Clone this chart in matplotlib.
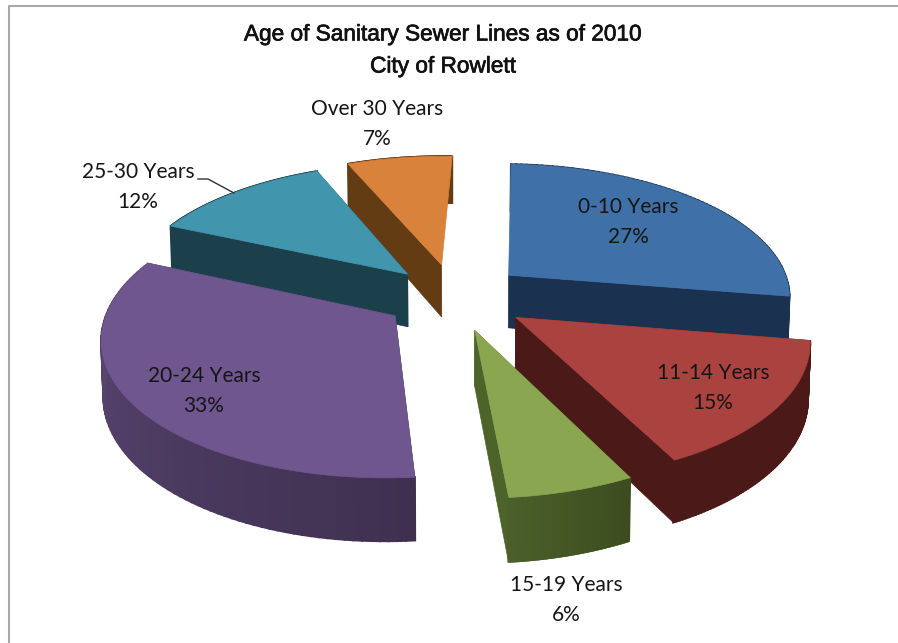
import numpy as np
import matplotlib
matplotlib.use("Agg")
import matplotlib.pyplot as plt
import matplotlib.patheffects as pe
from matplotlib.colors import to_rgb
from matplotlib.patches import Polygon

labels = ["0-10 Years", "11-14 Years", "15-19 Years", "20-24 Years", "25-30 Years", "Over 30 Years"]
values = [27, 15, 6, 33, 12, 7]
top_colors = ["#4070a8", "#aa4340", "#8aa650", "#70568e", "#4195ad", "#d8823b"]
side_colors = ["#1b3150", "#4b1a18", "#4c6329", "#1c3f4c", "#1c3f4c", "#633c14"]
rim_start = ["#1b3150", "#4b1a18", "#3c4c1f", "#3f3050", "#1c3f4c", "#633c14"]
rim_end = ["#1b3150", "#4b1a18", "#4a5f2a", "#5f4a78", "#1c3f4c", "#633c14"]
explode = [0.2554, 0.2646, 0.2605, 0.25, 0.238, 0.2475]
label_pos = [(628, 222), (713, 388), (566, 600), (204, 391), (138, 187), (377, 124)]

# perspective of the tilted pie, in pixels
cx, cy = 453.9, 296.1
sx, sy = 283.2, 132.5
persp = 0.144
rot = 0.0376
depth = 54.1
shrink = 0.0063


def project(x, y, bottom=False):
    w = 1 + persp * y
    if bottom:
        w = w * (1 + shrink)
        return cx + sx * x / w, cy + (depth - sy * y) / w
    return cx + sx * x / w, cy - sy * y / w


fig = plt.figure(figsize=(8.98, 6.43), dpi=100)
ax = fig.add_axes([0, 0, 1, 1])
ax.set_xlim(0, 898)
ax.set_ylim(643, 0)
ax.axis("off")

# chart frame runs off the right and bottom edges
ax.plot([9, 9, 898], [643, 6, 6], color="#a8a8a8", lw=1.5)

edges = np.concatenate([[0], np.cumsum(values)]) / sum(values) * 2 * np.pi + rot
mids = (edges[:-1] + edges[1:]) / 2

# back slices first so the nearer ones paint over them
order = sorted(range(len(values)), key=lambda i: -np.cos(mids[i]))
for i in order:
    ox = explode[i] * np.sin(mids[i])
    oy = explode[i] * np.cos(mids[i])
    t = np.linspace(edges[i], edges[i + 1], 80)
    rx = ox + np.sin(t)
    ry = oy + np.cos(t)

    # radial walls, the ones pointing straight back never show
    for k in (0, -1):
        if np.cos(t[k]) > 0.95:
            continue
        a = project(ox, oy)
        b = project(rx[k], ry[k])
        c = project(rx[k], ry[k], True)
        d = project(ox, oy, True)
        ax.add_patch(Polygon([a, b, c, d], closed=True, fc=side_colors[i], ec=side_colors[i], lw=0.5))

    # rounded outer wall, shaded strip by strip
    c0 = np.array(to_rgb(rim_start[i]))
    c1 = np.array(to_rgb(rim_end[i]))
    for j in range(len(t) - 1):
        f = j / (len(t) - 2)
        col = tuple(c0 + (c1 - c0) * f)
        quad = [project(rx[j], ry[j]), project(rx[j + 1], ry[j + 1]),
                project(rx[j + 1], ry[j + 1], True), project(rx[j], ry[j], True)]
        ax.add_patch(Polygon(quad, closed=True, fc=col, ec=col, lw=1.5))

    # top face
    xs, ys = project(rx, ry)
    ax0, ay0 = project(ox, oy)
    outline = [(ax0, ay0)] + list(zip(xs, ys))
    ax.add_patch(Polygon(outline, closed=True, fc=top_colors[i], ec=top_colors[i], lw=0.5))

for i in range(len(values)):
    ax.text(label_pos[i][0], label_pos[i][1], f"{labels[i]}\n{values[i]}%", ha="center", va="center",
            fontsize=15, family="Lato", color="#151515", linespacing=1.6)

# leader for the label that sits outside its slice
ax.plot([198, 208, 234], [179, 179, 193], color="#333333", lw=1)

title = ax.text(443, 50, "Age of Sanitary Sewer Lines as of 2010\nCity of Rowlett", ha="center", va="center",
                fontsize=16.3, family="Liberation Sans", color="#111111", linespacing=1.5)
title.set_path_effects([pe.withStroke(linewidth=0.5, foreground="#111111")])

fig.savefig("out.png", dpi=100)
